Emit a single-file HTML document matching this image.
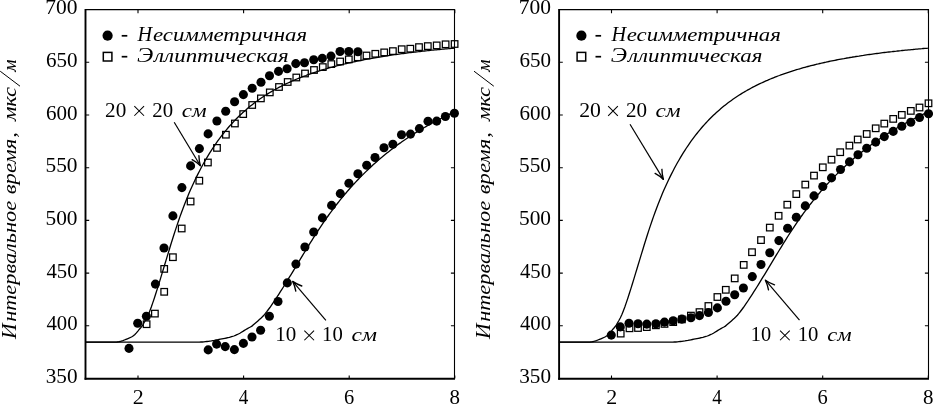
<!DOCTYPE html>
<html lang="ru">
<head>
<meta charset="utf-8">
<title>Интервальное время</title>
<style>
html,body{margin:0;padding:0;background:#fff;}
body{width:933px;height:404px;overflow:hidden;font-family:"Liberation Serif",serif;}
svg{display:block;will-change:transform;}
text{font-family:"Liberation Serif",serif;fill:#000;}
.num{font-style:normal;}
.it{font-style:italic;}
</style>
</head>
<body>
<svg width="933" height="404" viewBox="0 0 933 404"><rect width="933" height="404" fill="#fff"/><g id="left"><path d="M85.4,342.2 L86.9,342.2 L88.4,342.2 L89.9,342.2 L91.4,342.2 L92.9,342.2 L94.4,342.2 L95.9,342.2 L97.4,342.2 L98.9,342.2 L100.4,342.2 L101.9,342.2 L103.4,342.2 L104.9,342.2 L106.4,342.2 L107.9,342.2 L109.4,342.2 L110.9,342.2 L112.4,342.2 L113.9,342.2 L115.4,342.1 L116.9,342.0 L118.4,341.8 L119.9,341.5 L121.4,341.0 L122.9,340.6 L124.4,340.0 L125.9,339.4 L127.4,338.8 L128.9,338.2 L130.4,337.5 L131.9,336.8 L133.4,335.8 L134.9,334.5 L136.4,332.9 L137.9,331.1 L139.4,329.2 L140.9,327.5 L142.4,325.7 L143.9,323.0 L145.4,320.5 L146.9,317.8 L148.4,314.6 L149.9,310.8 L151.4,306.8 L152.9,302.4 L154.4,298.0 L155.9,293.3 L157.4,288.6 L158.9,283.7 L160.4,278.9 L161.9,273.9 L163.4,269.0 L164.9,264.0 L166.4,259.1 L167.9,254.1 L169.4,249.2 L170.9,244.3 L172.4,239.5 L173.9,234.7 L175.4,230.1 L176.9,225.6 L178.4,221.2 L179.9,216.9 L181.4,212.7 L182.9,208.7 L184.4,204.8 L185.9,200.9 L187.4,197.2 L188.9,193.6 L190.4,190.1 L191.9,186.7 L193.4,183.5 L194.9,180.2 L196.4,177.1 L197.9,174.1 L199.4,171.2 L200.9,168.3 L202.4,165.5 L203.9,162.8 L205.4,160.2 L206.9,157.6 L208.4,155.1 L209.9,152.7 L211.4,150.3 L212.9,148.0 L214.4,145.8 L215.9,143.6 L217.4,141.4 L218.9,139.4 L220.4,137.4 L221.9,135.4 L223.4,133.5 L224.9,131.6 L226.4,129.8 L227.9,128.0 L229.4,126.3 L230.9,124.6 L232.4,123.0 L233.9,121.4 L235.4,119.8 L236.9,118.3 L238.4,116.8 L239.9,115.3 L241.4,113.9 L242.9,112.5 L244.4,111.2 L245.9,109.9 L247.4,108.6 L248.9,107.3 L250.4,106.1 L251.9,104.9 L253.4,103.7 L254.9,102.6 L256.4,101.5 L257.9,100.4 L259.4,99.3 L260.9,98.3 L262.4,97.3 L263.9,96.3 L265.4,95.3 L266.9,94.4 L268.4,93.4 L269.9,92.5 L271.4,91.6 L272.9,90.8 L274.4,89.9 L275.9,89.1 L277.4,88.2 L278.9,87.4 L280.4,86.7 L281.9,85.9 L283.4,85.1 L284.9,84.4 L286.4,83.7 L287.9,83.0 L289.4,82.3 L290.9,81.6 L292.4,80.9 L293.9,80.3 L295.4,79.6 L296.9,79.0 L298.4,78.4 L299.9,77.8 L301.4,77.2 L302.9,76.6 L304.4,76.0 L305.9,75.5 L307.4,74.9 L308.9,74.4 L310.4,73.8 L311.9,73.3 L313.4,72.8 L314.9,72.3 L316.4,71.8 L317.9,71.3 L319.4,70.8 L320.9,70.4 L322.4,69.9 L323.9,69.5 L325.4,69.0 L326.9,68.6 L328.4,68.1 L329.9,67.7 L331.4,67.3 L332.9,66.9 L334.4,66.5 L335.9,66.1 L337.4,65.7 L338.9,65.3 L340.4,65.0 L341.9,64.6 L343.4,64.2 L344.9,63.9 L346.4,63.5 L347.9,63.2 L349.4,62.8 L350.9,62.5 L352.4,62.2 L353.9,61.8 L355.4,61.5 L356.9,61.2 L358.4,60.9 L359.9,60.6 L361.4,60.3 L362.9,60.0 L364.4,59.7 L365.9,59.4 L367.4,59.1 L368.9,58.8 L370.4,58.6 L371.9,58.3 L373.4,58.0 L374.9,57.8 L376.4,57.5 L377.9,57.3 L379.4,57.0 L380.9,56.8 L382.4,56.5 L383.9,56.3 L385.4,56.1 L386.9,55.8 L388.4,55.6 L389.9,55.4 L391.4,55.1 L392.9,54.9 L394.4,54.7 L395.9,54.5 L397.4,54.3 L398.9,54.1 L400.4,53.9 L401.9,53.7 L403.4,53.5 L404.9,53.3 L406.4,53.1 L407.9,52.9 L409.4,52.7 L410.9,52.5 L412.4,52.4 L413.9,52.2 L415.4,52.0 L416.9,51.8 L418.4,51.7 L419.9,51.5 L421.4,51.3 L422.9,51.2 L424.4,51.0 L425.9,50.8 L427.4,50.7 L428.9,50.5 L430.4,50.4 L431.9,50.2 L433.4,50.1 L434.9,49.9 L436.4,49.8 L437.9,49.6 L439.4,49.5 L440.9,49.3 L442.4,49.2 L443.9,49.1 L445.4,48.9 L446.9,48.8 L448.4,48.7 L449.9,48.5 L451.4,48.4 L452.9,48.3 L454.4,48.2 L455.0,48.1" fill="none" stroke="#000" stroke-width="1.3"/><path d="M85.4,342.2 L86.9,342.2 L88.4,342.2 L89.9,342.2 L91.4,342.2 L92.9,342.2 L94.4,342.2 L95.9,342.2 L97.4,342.2 L98.9,342.2 L100.4,342.2 L101.9,342.2 L103.4,342.2 L104.9,342.2 L106.4,342.2 L107.9,342.2 L109.4,342.2 L110.9,342.2 L112.4,342.2 L113.9,342.2 L115.4,342.2 L116.9,342.2 L118.4,342.2 L119.9,342.2 L121.4,342.2 L122.9,342.2 L124.4,342.2 L125.9,342.2 L127.4,342.2 L128.9,342.2 L130.4,342.2 L131.9,342.2 L133.4,342.2 L134.9,342.2 L136.4,342.2 L137.9,342.2 L139.4,342.2 L140.9,342.2 L142.4,342.2 L143.9,342.2 L145.4,342.2 L146.9,342.2 L148.4,342.2 L149.9,342.2 L151.4,342.2 L152.9,342.2 L154.4,342.2 L155.9,342.2 L157.4,342.2 L158.9,342.2 L160.4,342.2 L161.9,342.2 L163.4,342.2 L164.9,342.2 L166.4,342.2 L167.9,342.2 L169.4,342.2 L170.9,342.2 L172.4,342.2 L173.9,342.2 L175.4,342.2 L176.9,342.2 L178.4,342.2 L179.9,342.2 L181.4,342.2 L182.9,342.2 L184.4,342.2 L185.9,342.2 L187.4,342.2 L188.9,342.2 L190.4,342.2 L191.9,342.2 L193.4,342.2 L194.9,342.2 L196.4,342.2 L197.9,342.1 L199.4,342.1 L200.9,342.0 L202.4,342.0 L203.9,341.9 L205.4,341.7 L206.9,341.5 L208.4,341.3 L209.9,341.1 L211.4,340.9 L212.9,340.6 L214.4,340.4 L215.9,340.1 L217.4,339.8 L218.9,339.5 L220.4,339.2 L221.9,338.9 L223.4,338.6 L224.9,338.3 L226.4,338.0 L227.9,337.6 L229.4,337.3 L230.9,336.9 L232.4,336.5 L233.9,336.0 L235.4,335.4 L236.9,334.7 L238.4,334.0 L239.9,333.2 L241.4,332.3 L242.9,331.4 L244.4,330.4 L245.9,329.5 L247.4,328.6 L248.9,327.7 L250.4,327.0 L251.9,326.1 L253.4,324.8 L254.9,323.5 L256.4,322.2 L257.9,320.9 L259.4,319.6 L260.9,318.3 L262.4,316.8 L263.9,315.2 L265.4,313.4 L266.9,311.5 L268.4,309.5 L269.9,307.5 L271.4,305.3 L272.9,303.2 L274.4,301.0 L275.9,298.7 L277.4,296.4 L278.9,294.1 L280.4,291.7 L281.9,289.4 L283.4,287.0 L284.9,284.6 L286.4,282.1 L287.9,279.7 L289.4,277.2 L290.9,274.8 L292.4,272.3 L293.9,269.8 L295.4,267.3 L296.9,264.8 L298.4,262.4 L299.9,259.9 L301.4,257.4 L302.9,254.9 L304.4,252.5 L305.9,250.0 L307.4,247.6 L308.9,245.1 L310.4,242.7 L311.9,240.3 L313.4,237.9 L314.9,235.5 L316.4,233.2 L317.9,230.9 L319.4,228.6 L320.9,226.3 L322.4,224.1 L323.9,221.9 L325.4,219.7 L326.9,217.6 L328.4,215.5 L329.9,213.4 L331.4,211.4 L332.9,209.3 L334.4,207.4 L335.9,205.4 L337.4,203.5 L338.9,201.6 L340.4,199.7 L341.9,197.8 L343.4,196.0 L344.9,194.2 L346.4,192.5 L347.9,190.7 L349.4,189.0 L350.9,187.3 L352.4,185.6 L353.9,184.0 L355.4,182.4 L356.9,180.8 L358.4,179.2 L359.9,177.6 L361.4,176.1 L362.9,174.6 L364.4,173.1 L365.9,171.6 L367.4,170.2 L368.9,168.8 L370.4,167.4 L371.9,166.0 L373.4,164.6 L374.9,163.2 L376.4,161.9 L377.9,160.6 L379.4,159.3 L380.9,158.0 L382.4,156.8 L383.9,155.5 L385.4,154.3 L386.9,153.1 L388.4,151.9 L389.9,150.7 L391.4,149.5 L392.9,148.4 L394.4,147.2 L395.9,146.1 L397.4,145.0 L398.9,143.9 L400.4,142.9 L401.9,141.8 L403.4,140.7 L404.9,139.7 L406.4,138.7 L407.9,137.7 L409.4,136.7 L410.9,135.7 L412.4,134.7 L413.9,133.8 L415.4,132.9 L416.9,131.9 L418.4,131.0 L419.9,130.1 L421.4,129.2 L422.9,128.3 L424.4,127.5 L425.9,126.6 L427.4,125.7 L428.9,124.9 L430.4,124.1 L431.9,123.2 L433.4,122.4 L434.9,121.6 L436.4,120.8 L437.9,120.1 L439.4,119.3 L440.9,118.5 L442.4,117.8 L443.9,117.0 L445.4,116.3 L446.9,115.6 L448.4,114.9 L449.9,114.1 L451.4,113.4 L452.9,112.8 L454.4,112.1 L455.0,111.8" fill="none" stroke="#000" stroke-width="1.3"/><g fill="none" stroke="#000" stroke-width="1.25"><rect x="143.32" y="320.93" width="6.55" height="6.55"/><rect x="151.62" y="310.33" width="6.55" height="6.55"/><rect x="160.92" y="288.53" width="6.55" height="6.55"/><rect x="160.92" y="265.62" width="6.55" height="6.55"/><rect x="169.62" y="253.92" width="6.55" height="6.55"/><rect x="178.42" y="225.22" width="6.55" height="6.55"/><rect x="187.32" y="198.22" width="6.55" height="6.55"/><rect x="196.03" y="177.42" width="6.55" height="6.55"/><rect x="204.62" y="159.22" width="6.55" height="6.55"/><rect x="213.72" y="144.62" width="6.55" height="6.55"/><rect x="222.62" y="131.42" width="6.55" height="6.55"/><rect x="231.62" y="120.22" width="6.55" height="6.55"/><rect x="239.92" y="110.82" width="6.55" height="6.55"/><rect x="248.92" y="101.72" width="6.55" height="6.55"/><rect x="257.62" y="95.12" width="6.55" height="6.55"/><rect x="266.53" y="89.12" width="6.55" height="6.55"/><rect x="275.73" y="83.72" width="6.55" height="6.55"/><rect x="284.43" y="78.72" width="6.55" height="6.55"/><rect x="293.03" y="74.22" width="6.55" height="6.55"/><rect x="301.73" y="70.22" width="6.55" height="6.55"/><rect x="310.73" y="66.72" width="6.55" height="6.55"/><rect x="319.53" y="63.82" width="6.55" height="6.55"/><rect x="328.03" y="60.82" width="6.55" height="6.55"/><rect x="336.83" y="58.23" width="6.55" height="6.55"/><rect x="345.53" y="56.12" width="6.55" height="6.55"/><rect x="354.43" y="54.02" width="6.55" height="6.55"/><rect x="363.23" y="52.23" width="6.55" height="6.55"/><rect x="372.03" y="50.52" width="6.55" height="6.55"/><rect x="380.93" y="49.12" width="6.55" height="6.55"/><rect x="389.62" y="47.83" width="6.55" height="6.55"/><rect x="398.43" y="45.93" width="6.55" height="6.55"/><rect x="407.03" y="45.43" width="6.55" height="6.55"/><rect x="415.73" y="43.83" width="6.55" height="6.55"/><rect x="424.53" y="42.83" width="6.55" height="6.55"/><rect x="433.43" y="42.12" width="6.55" height="6.55"/><rect x="442.33" y="41.02" width="6.55" height="6.55"/><rect x="451.33" y="40.73" width="6.55" height="6.55"/></g><g fill="#000"><circle cx="129.0" cy="348.4" r="4.55"/><circle cx="137.7" cy="323.3" r="4.55"/><circle cx="146.4" cy="316.3" r="4.55"/><circle cx="155.4" cy="284.1" r="4.55"/><circle cx="164.0" cy="248.0" r="4.55"/><circle cx="172.9" cy="215.9" r="4.55"/><circle cx="181.9" cy="187.6" r="4.55"/><circle cx="190.6" cy="165.9" r="4.55"/><circle cx="199.4" cy="148.6" r="4.55"/><circle cx="208.1" cy="133.9" r="4.55"/><circle cx="216.9" cy="121.0" r="4.55"/><circle cx="225.7" cy="111.3" r="4.55"/><circle cx="234.6" cy="101.8" r="4.55"/><circle cx="243.4" cy="94.6" r="4.55"/><circle cx="252.2" cy="88.3" r="4.55"/><circle cx="261.0" cy="82.2" r="4.55"/><circle cx="269.5" cy="75.7" r="4.55"/><circle cx="278.5" cy="71.4" r="4.55"/><circle cx="287.1" cy="68.8" r="4.55"/><circle cx="295.8" cy="63.6" r="4.55"/><circle cx="304.5" cy="62.7" r="4.55"/><circle cx="313.7" cy="59.8" r="4.55"/><circle cx="322.3" cy="58.4" r="4.55"/><circle cx="331.0" cy="56.1" r="4.55"/><circle cx="340.0" cy="51.5" r="4.55"/><circle cx="348.8" cy="51.5" r="4.55"/><circle cx="357.9" cy="51.8" r="4.55"/><circle cx="208.2" cy="349.9" r="4.55"/><circle cx="216.6" cy="344.1" r="4.55"/><circle cx="225.2" cy="346.6" r="4.55"/><circle cx="234.4" cy="349.6" r="4.55"/><circle cx="243.4" cy="343.4" r="4.55"/><circle cx="252.0" cy="337.0" r="4.55"/><circle cx="260.6" cy="330.2" r="4.55"/><circle cx="269.4" cy="316.3" r="4.55"/><circle cx="278.0" cy="301.5" r="4.55"/><circle cx="287.3" cy="282.9" r="4.55"/><circle cx="295.9" cy="264.1" r="4.55"/><circle cx="304.9" cy="247.0" r="4.55"/><circle cx="313.7" cy="232.0" r="4.55"/><circle cx="322.4" cy="217.9" r="4.55"/><circle cx="331.6" cy="205.4" r="4.55"/><circle cx="340.3" cy="193.6" r="4.55"/><circle cx="348.9" cy="183.2" r="4.55"/><circle cx="357.9" cy="173.7" r="4.55"/><circle cx="366.7" cy="165.2" r="4.55"/><circle cx="375.0" cy="157.5" r="4.55"/><circle cx="384.0" cy="147.7" r="4.55"/><circle cx="392.9" cy="144.2" r="4.55"/><circle cx="401.5" cy="134.7" r="4.55"/><circle cx="410.5" cy="134.1" r="4.55"/><circle cx="419.4" cy="128.6" r="4.55"/><circle cx="428.0" cy="121.3" r="4.55"/><circle cx="436.7" cy="121.1" r="4.55"/><circle cx="445.4" cy="116.5" r="4.55"/><circle cx="454.4" cy="113.3" r="4.55"/></g><path d="M85.3,9.6 H454.5 V378.6" fill="none" stroke="#000" stroke-width="1.1"/><path d="M85.5,9.1 V379.70000000000005" fill="none" stroke="#000" stroke-width="1.9"/><path d="M84.6,378.70000000000005 H455.0" fill="none" stroke="#000" stroke-width="2.1"/><path d="M138.0,9.6 v3.6 M138.0,378.6 v-3.1 M243.6,9.6 v3.6 M243.6,378.6 v-3.1 M349.2,9.6 v3.6 M349.2,378.6 v-3.1 M454.8,9.6 v3.6 M454.8,378.6 v-3.1 M85.3,325.8 h3.9 M454.5,325.8 h-3.6 M85.3,273.1 h3.9 M454.5,273.1 h-3.6 M85.3,220.4 h3.9 M454.5,220.4 h-3.6 M85.3,167.7 h3.9 M454.5,167.7 h-3.6 M85.3,115.0 h3.9 M454.5,115.0 h-3.6 M85.3,62.3 h3.9 M454.5,62.3 h-3.6" fill="none" stroke="#000" stroke-width="1.1"/><text class="num" font-size="21.9" x="45.74" y="383.15" textLength="31.81" lengthAdjust="spacingAndGlyphs">350</text><text class="num" font-size="21.9" x="46.38" y="330.45" textLength="31.15" lengthAdjust="spacingAndGlyphs">400</text><text class="num" font-size="21.9" x="46.38" y="277.75" textLength="31.15" lengthAdjust="spacingAndGlyphs">450</text><text class="num" font-size="21.9" x="45.52" y="225.05" textLength="32.04" lengthAdjust="spacingAndGlyphs">500</text><text class="num" font-size="21.9" x="45.52" y="172.35" textLength="32.04" lengthAdjust="spacingAndGlyphs">550</text><text class="num" font-size="21.9" x="45.96" y="119.65" textLength="31.58" lengthAdjust="spacingAndGlyphs">600</text><text class="num" font-size="21.9" x="45.96" y="66.95" textLength="31.58" lengthAdjust="spacingAndGlyphs">650</text><text class="num" font-size="21.9" x="45.29" y="14.25" textLength="32.27" lengthAdjust="spacingAndGlyphs">700</text><text class="num" font-size="21.9" x="132.72" y="403.60" textLength="11.00" lengthAdjust="spacingAndGlyphs">2</text><text class="num" font-size="21.9" x="238.82" y="403.60" textLength="9.57" lengthAdjust="spacingAndGlyphs">4</text><text class="num" font-size="21.9" x="343.98" y="403.60" textLength="10.23" lengthAdjust="spacingAndGlyphs">6</text><text class="num" font-size="21.9" x="449.56" y="403.60" textLength="10.48" lengthAdjust="spacingAndGlyphs">8</text><circle cx="107.6" cy="35.7" r="5.1"/><rect x="103.3" y="52.4" width="8.6" height="8.6" fill="none" stroke="#000" stroke-width="1.5"/><rect x="121.7" y="34.95" width="5.6" height="1.7"/><rect x="121.7" y="55.85" width="5.6" height="1.7"/><text class="it" font-size="21.2" x="137.60" y="40.75" textLength="14.63" lengthAdjust="spacingAndGlyphs">Н</text><text class="it" font-size="18.6" x="152.91" y="40.75" textLength="154.14" lengthAdjust="spacingAndGlyphs">есимметричная</text><text class="it" font-size="21.2" x="136.90" y="61.65" textLength="16.32" lengthAdjust="spacingAndGlyphs">Э</text><text class="it" font-size="18.6" x="154.12" y="61.65" textLength="134.48" lengthAdjust="spacingAndGlyphs">ллиптическая</text><text class="num" font-size="21.9" x="105.05" y="116.50" textLength="21.20" lengthAdjust="spacingAndGlyphs">20</text><path d="M134.35,106.05 L144.05,115.75 M134.35,115.75 L144.05,106.05" stroke="#000" stroke-width="1.05" fill="none"/><text class="num" font-size="21.9" x="152.27" y="116.50" textLength="20.76" lengthAdjust="spacingAndGlyphs">20</text><text class="it" font-size="18.6" x="181.81" y="116.50" textLength="24.79" lengthAdjust="spacingAndGlyphs">см</text><path d="M174.2,122.3 L200.4,165.7" fill="none" stroke="#000" stroke-width="1.2"/><path d="M200.4,165.7 Q199.0,160.8 198.9,155.6 M200.4,165.7 Q196.7,162.2 192.1,159.7" fill="none" stroke="#000" stroke-width="1.35" stroke-linecap="round"/><text class="num" font-size="21.9" x="275.21" y="341.00" textLength="21.03" lengthAdjust="spacingAndGlyphs">10</text><path d="M304.35,330.55 L314.05,340.25 M304.35,340.25 L314.05,330.55" stroke="#000" stroke-width="1.05" fill="none"/><text class="num" font-size="21.9" x="322.04" y="341.00" textLength="20.69" lengthAdjust="spacingAndGlyphs">10</text><text class="it" font-size="18.6" x="351.60" y="341.00" textLength="25.42" lengthAdjust="spacingAndGlyphs">см</text><path d="M325.9,320.4 L292.7,281.4" fill="none" stroke="#000" stroke-width="1.2"/><path d="M292.7,281.4 Q294.9,286.0 295.8,291.1 M292.7,281.4 Q296.9,284.3 301.8,286.0" fill="none" stroke="#000" stroke-width="1.35" stroke-linecap="round"/><text class="it" font-size="21.2" transform="translate(16.40,338.98) rotate(-90)" textLength="15.55" lengthAdjust="spacingAndGlyphs">И</text><text class="it" font-size="18.6" transform="translate(16.40,321.87) rotate(-90)" textLength="121.03" lengthAdjust="spacingAndGlyphs">нтервальное</text><text class="it" font-size="18.6" transform="translate(16.40,194.18) rotate(-90)" textLength="55.42" lengthAdjust="spacingAndGlyphs">время</text><text class="it" font-size="18.6" transform="translate(16.40,137.68) rotate(-90)" textLength="5.62" lengthAdjust="spacingAndGlyphs">,</text><text class="it" font-size="18.6" transform="translate(16.40,121.12) rotate(-90)" textLength="34.29" lengthAdjust="spacingAndGlyphs">мкс</text><path d="M20.0,86.2 L0.2,71.2" stroke="#000" stroke-width="1.0" fill="none"/><text class="it" font-size="18.6" transform="translate(16.40,71.72) rotate(-90)" textLength="12.37" lengthAdjust="spacingAndGlyphs">м</text></g><g id="right"><path d="M558.9,342.2 L560.4,342.2 L561.9,342.2 L563.4,342.2 L564.9,342.2 L566.4,342.2 L567.9,342.2 L569.4,342.2 L570.9,342.2 L572.4,342.2 L573.9,342.2 L575.4,342.2 L576.9,342.2 L578.4,342.2 L579.9,342.2 L581.4,342.2 L582.9,342.2 L584.4,342.2 L585.9,342.2 L587.4,342.2 L588.9,342.1 L590.4,342.0 L591.9,341.8 L593.4,341.5 L594.9,341.0 L596.4,340.6 L597.9,340.0 L599.4,339.4 L600.9,338.8 L602.4,338.2 L603.9,337.5 L605.4,336.8 L606.9,335.8 L608.4,334.5 L609.9,332.9 L611.4,331.1 L612.9,329.2 L614.4,327.5 L615.9,325.7 L617.4,323.0 L618.9,320.5 L620.4,317.8 L621.9,314.6 L623.4,310.8 L624.9,306.8 L626.4,302.4 L627.9,298.0 L629.4,293.3 L630.9,288.6 L632.4,283.7 L633.9,278.9 L635.4,273.9 L636.9,269.0 L638.4,264.0 L639.9,259.1 L641.4,254.1 L642.9,249.2 L644.4,244.3 L645.9,239.5 L647.4,234.7 L648.9,230.1 L650.4,225.6 L651.9,221.2 L653.4,216.9 L654.9,212.7 L656.4,208.7 L657.9,204.8 L659.4,200.9 L660.9,197.2 L662.4,193.6 L663.9,190.1 L665.4,186.7 L666.9,183.5 L668.4,180.2 L669.9,177.1 L671.4,174.1 L672.9,171.2 L674.4,168.3 L675.9,165.5 L677.4,162.8 L678.9,160.2 L680.4,157.6 L681.9,155.1 L683.4,152.7 L684.9,150.3 L686.4,148.0 L687.9,145.8 L689.4,143.6 L690.9,141.4 L692.4,139.4 L693.9,137.4 L695.4,135.4 L696.9,133.5 L698.4,131.6 L699.9,129.8 L701.4,128.0 L702.9,126.3 L704.4,124.6 L705.9,123.0 L707.4,121.4 L708.9,119.8 L710.4,118.3 L711.9,116.8 L713.4,115.3 L714.9,113.9 L716.4,112.5 L717.9,111.2 L719.4,109.9 L720.9,108.6 L722.4,107.3 L723.9,106.1 L725.4,104.9 L726.9,103.7 L728.4,102.6 L729.9,101.5 L731.4,100.4 L732.9,99.3 L734.4,98.3 L735.9,97.3 L737.4,96.3 L738.9,95.3 L740.4,94.4 L741.9,93.4 L743.4,92.5 L744.9,91.6 L746.4,90.8 L747.9,89.9 L749.4,89.1 L750.9,88.2 L752.4,87.4 L753.9,86.7 L755.4,85.9 L756.9,85.1 L758.4,84.4 L759.9,83.7 L761.4,83.0 L762.9,82.3 L764.4,81.6 L765.9,80.9 L767.4,80.3 L768.9,79.6 L770.4,79.0 L771.9,78.4 L773.4,77.8 L774.9,77.2 L776.4,76.6 L777.9,76.0 L779.4,75.5 L780.9,74.9 L782.4,74.4 L783.9,73.8 L785.4,73.3 L786.9,72.8 L788.4,72.3 L789.9,71.8 L791.4,71.3 L792.9,70.8 L794.4,70.4 L795.9,69.9 L797.4,69.5 L798.9,69.0 L800.4,68.6 L801.9,68.1 L803.4,67.7 L804.9,67.3 L806.4,66.9 L807.9,66.5 L809.4,66.1 L810.9,65.7 L812.4,65.3 L813.9,65.0 L815.4,64.6 L816.9,64.2 L818.4,63.9 L819.9,63.5 L821.4,63.2 L822.9,62.8 L824.4,62.5 L825.9,62.2 L827.4,61.8 L828.9,61.5 L830.4,61.2 L831.9,60.9 L833.4,60.6 L834.9,60.3 L836.4,60.0 L837.9,59.7 L839.4,59.4 L840.9,59.1 L842.4,58.8 L843.9,58.6 L845.4,58.3 L846.9,58.0 L848.4,57.8 L849.9,57.5 L851.4,57.3 L852.9,57.0 L854.4,56.8 L855.9,56.5 L857.4,56.3 L858.9,56.1 L860.4,55.8 L861.9,55.6 L863.4,55.4 L864.9,55.1 L866.4,54.9 L867.9,54.7 L869.4,54.5 L870.9,54.3 L872.4,54.1 L873.9,53.9 L875.4,53.7 L876.9,53.5 L878.4,53.3 L879.9,53.1 L881.4,52.9 L882.9,52.7 L884.4,52.5 L885.9,52.4 L887.4,52.2 L888.9,52.0 L890.4,51.8 L891.9,51.7 L893.4,51.5 L894.9,51.3 L896.4,51.2 L897.9,51.0 L899.4,50.8 L900.9,50.7 L902.4,50.5 L903.9,50.4 L905.4,50.2 L906.9,50.1 L908.4,49.9 L909.9,49.8 L911.4,49.6 L912.9,49.5 L914.4,49.3 L915.9,49.2 L917.4,49.1 L918.9,48.9 L920.4,48.8 L921.9,48.7 L923.4,48.5 L924.9,48.4 L926.4,48.3 L927.9,48.2 L928.5,48.1" fill="none" stroke="#000" stroke-width="1.3"/><path d="M558.9,342.2 L560.4,342.2 L561.9,342.2 L563.4,342.2 L564.9,342.2 L566.4,342.2 L567.9,342.2 L569.4,342.2 L570.9,342.2 L572.4,342.2 L573.9,342.2 L575.4,342.2 L576.9,342.2 L578.4,342.2 L579.9,342.2 L581.4,342.2 L582.9,342.2 L584.4,342.2 L585.9,342.2 L587.4,342.2 L588.9,342.2 L590.4,342.2 L591.9,342.2 L593.4,342.2 L594.9,342.2 L596.4,342.2 L597.9,342.2 L599.4,342.2 L600.9,342.2 L602.4,342.2 L603.9,342.2 L605.4,342.2 L606.9,342.2 L608.4,342.2 L609.9,342.2 L611.4,342.2 L612.9,342.2 L614.4,342.2 L615.9,342.2 L617.4,342.2 L618.9,342.2 L620.4,342.2 L621.9,342.2 L623.4,342.2 L624.9,342.2 L626.4,342.2 L627.9,342.2 L629.4,342.2 L630.9,342.2 L632.4,342.2 L633.9,342.2 L635.4,342.2 L636.9,342.2 L638.4,342.2 L639.9,342.2 L641.4,342.2 L642.9,342.2 L644.4,342.2 L645.9,342.2 L647.4,342.2 L648.9,342.2 L650.4,342.2 L651.9,342.2 L653.4,342.2 L654.9,342.2 L656.4,342.2 L657.9,342.2 L659.4,342.2 L660.9,342.2 L662.4,342.2 L663.9,342.2 L665.4,342.2 L666.9,342.2 L668.4,342.2 L669.9,342.2 L671.4,342.1 L672.9,342.1 L674.4,342.0 L675.9,342.0 L677.4,341.9 L678.9,341.7 L680.4,341.5 L681.9,341.3 L683.4,341.1 L684.9,340.9 L686.4,340.6 L687.9,340.4 L689.4,340.1 L690.9,339.8 L692.4,339.5 L693.9,339.2 L695.4,338.9 L696.9,338.6 L698.4,338.3 L699.9,338.0 L701.4,337.6 L702.9,337.3 L704.4,336.9 L705.9,336.5 L707.4,336.0 L708.9,335.4 L710.4,334.7 L711.9,334.0 L713.4,333.2 L714.9,332.3 L716.4,331.4 L717.9,330.4 L719.4,329.5 L720.9,328.6 L722.4,327.7 L723.9,327.0 L725.4,326.1 L726.9,324.8 L728.4,323.5 L729.9,322.2 L731.4,320.9 L732.9,319.6 L734.4,318.3 L735.9,316.8 L737.4,315.2 L738.9,313.4 L740.4,311.5 L741.9,309.5 L743.4,307.5 L744.9,305.3 L746.4,303.2 L747.9,301.0 L749.4,298.7 L750.9,296.4 L752.4,294.1 L753.9,291.7 L755.4,289.4 L756.9,287.0 L758.4,284.6 L759.9,282.1 L761.4,279.7 L762.9,277.2 L764.4,274.8 L765.9,272.3 L767.4,269.8 L768.9,267.3 L770.4,264.8 L771.9,262.4 L773.4,259.9 L774.9,257.4 L776.4,254.9 L777.9,252.5 L779.4,250.0 L780.9,247.6 L782.4,245.1 L783.9,242.7 L785.4,240.3 L786.9,237.9 L788.4,235.5 L789.9,233.2 L791.4,230.9 L792.9,228.6 L794.4,226.3 L795.9,224.1 L797.4,221.9 L798.9,219.7 L800.4,217.6 L801.9,215.5 L803.4,213.4 L804.9,211.4 L806.4,209.3 L807.9,207.4 L809.4,205.4 L810.9,203.5 L812.4,201.6 L813.9,199.7 L815.4,197.8 L816.9,196.0 L818.4,194.2 L819.9,192.5 L821.4,190.7 L822.9,189.0 L824.4,187.3 L825.9,185.6 L827.4,184.0 L828.9,182.4 L830.4,180.8 L831.9,179.2 L833.4,177.6 L834.9,176.1 L836.4,174.6 L837.9,173.1 L839.4,171.6 L840.9,170.2 L842.4,168.8 L843.9,167.4 L845.4,166.0 L846.9,164.6 L848.4,163.2 L849.9,161.9 L851.4,160.6 L852.9,159.3 L854.4,158.0 L855.9,156.8 L857.4,155.5 L858.9,154.3 L860.4,153.1 L861.9,151.9 L863.4,150.7 L864.9,149.5 L866.4,148.4 L867.9,147.2 L869.4,146.1 L870.9,145.0 L872.4,143.9 L873.9,142.9 L875.4,141.8 L876.9,140.7 L878.4,139.7 L879.9,138.7 L881.4,137.7 L882.9,136.7 L884.4,135.7 L885.9,134.7 L887.4,133.8 L888.9,132.9 L890.4,131.9 L891.9,131.0 L893.4,130.1 L894.9,129.2 L896.4,128.3 L897.9,127.5 L899.4,126.6 L900.9,125.7 L902.4,124.9 L903.9,124.1 L905.4,123.2 L906.9,122.4 L908.4,121.6 L909.9,120.8 L911.4,120.1 L912.9,119.3 L914.4,118.5 L915.9,117.8 L917.4,117.0 L918.9,116.3 L920.4,115.6 L921.9,114.9 L923.4,114.1 L924.9,113.4 L926.4,112.8 L927.9,112.1 L928.5,111.8" fill="none" stroke="#000" stroke-width="1.3"/><g fill="none" stroke="#000" stroke-width="1.25"><rect x="617.43" y="330.33" width="6.55" height="6.55"/><rect x="626.23" y="325.03" width="6.55" height="6.55"/><rect x="634.73" y="324.73" width="6.55" height="6.55"/><rect x="643.52" y="323.83" width="6.55" height="6.55"/><rect x="652.62" y="322.03" width="6.55" height="6.55"/><rect x="661.23" y="320.62" width="6.55" height="6.55"/><rect x="669.93" y="318.83" width="6.55" height="6.55"/><rect x="678.62" y="316.12" width="6.55" height="6.55"/><rect x="687.62" y="312.33" width="6.55" height="6.55"/><rect x="696.23" y="308.83" width="6.55" height="6.55"/><rect x="705.12" y="302.73" width="6.55" height="6.55"/><rect x="714.12" y="293.73" width="6.55" height="6.55"/><rect x="722.52" y="286.53" width="6.55" height="6.55"/><rect x="731.43" y="275.12" width="6.55" height="6.55"/><rect x="740.43" y="261.62" width="6.55" height="6.55"/><rect x="748.73" y="248.92" width="6.55" height="6.55"/><rect x="757.73" y="236.82" width="6.55" height="6.55"/><rect x="766.52" y="224.32" width="6.55" height="6.55"/><rect x="775.33" y="212.53" width="6.55" height="6.55"/><rect x="784.02" y="201.42" width="6.55" height="6.55"/><rect x="793.02" y="190.82" width="6.55" height="6.55"/><rect x="802.02" y="181.32" width="6.55" height="6.55"/><rect x="810.73" y="172.32" width="6.55" height="6.55"/><rect x="819.52" y="164.03" width="6.55" height="6.55"/><rect x="828.23" y="156.42" width="6.55" height="6.55"/><rect x="836.93" y="148.92" width="6.55" height="6.55"/><rect x="846.12" y="142.32" width="6.55" height="6.55"/><rect x="854.43" y="136.22" width="6.55" height="6.55"/><rect x="863.43" y="130.72" width="6.55" height="6.55"/><rect x="872.43" y="125.03" width="6.55" height="6.55"/><rect x="881.02" y="120.32" width="6.55" height="6.55"/><rect x="889.93" y="115.62" width="6.55" height="6.55"/><rect x="898.52" y="111.62" width="6.55" height="6.55"/><rect x="907.52" y="107.62" width="6.55" height="6.55"/><rect x="916.23" y="104.22" width="6.55" height="6.55"/><rect x="925.23" y="100.02" width="6.55" height="6.55"/></g><g fill="#000"><circle cx="611.3" cy="335.1" r="4.55"/><circle cx="620.3" cy="326.9" r="4.55"/><circle cx="629.0" cy="323.3" r="4.55"/><circle cx="638.0" cy="323.8" r="4.55"/><circle cx="646.8" cy="324.1" r="4.55"/><circle cx="655.9" cy="323.8" r="4.55"/><circle cx="664.5" cy="322.1" r="4.55"/><circle cx="673.2" cy="320.8" r="4.55"/><circle cx="681.9" cy="319.1" r="4.55"/><circle cx="690.9" cy="317.7" r="4.55"/><circle cx="699.5" cy="315.6" r="4.55"/><circle cx="708.4" cy="312.5" r="4.55"/><circle cx="717.4" cy="307.9" r="4.55"/><circle cx="726.0" cy="301.3" r="4.55"/><circle cx="734.7" cy="294.8" r="4.55"/><circle cx="743.4" cy="288.0" r="4.55"/><circle cx="752.3" cy="276.6" r="4.55"/><circle cx="761.0" cy="264.5" r="4.55"/><circle cx="769.8" cy="252.7" r="4.55"/><circle cx="778.9" cy="240.6" r="4.55"/><circle cx="787.6" cy="228.3" r="4.55"/><circle cx="796.3" cy="217.2" r="4.55"/><circle cx="805.3" cy="205.9" r="4.55"/><circle cx="814.0" cy="195.9" r="4.55"/><circle cx="822.8" cy="186.5" r="4.55"/><circle cx="831.5" cy="177.9" r="4.55"/><circle cx="840.5" cy="169.5" r="4.55"/><circle cx="849.5" cy="161.9" r="4.55"/><circle cx="858.0" cy="154.8" r="4.55"/><circle cx="866.7" cy="148.3" r="4.55"/><circle cx="875.7" cy="142.1" r="4.55"/><circle cx="884.3" cy="136.6" r="4.55"/><circle cx="893.2" cy="131.4" r="4.55"/><circle cx="901.8" cy="126.2" r="4.55"/><circle cx="910.8" cy="122.2" r="4.55"/><circle cx="919.5" cy="117.5" r="4.55"/><circle cx="928.5" cy="113.7" r="4.55"/></g><path d="M558.9,9.6 H928.5 V378.6" fill="none" stroke="#000" stroke-width="1.1"/><path d="M559.1,9.1 V379.70000000000005" fill="none" stroke="#000" stroke-width="1.9"/><path d="M558.2,378.70000000000005 H929.0" fill="none" stroke="#000" stroke-width="2.1"/><path d="M611.5,9.6 v3.6 M611.5,378.6 v-3.1 M717.1,9.6 v3.6 M717.1,378.6 v-3.1 M822.7,9.6 v3.6 M822.7,378.6 v-3.1 M928.3,9.6 v3.6 M928.3,378.6 v-3.1 M558.9,325.8 h3.9 M928.5,325.8 h-3.6 M558.9,273.1 h3.9 M928.5,273.1 h-3.6 M558.9,220.4 h3.9 M928.5,220.4 h-3.6 M558.9,167.7 h3.9 M928.5,167.7 h-3.6 M558.9,115.0 h3.9 M928.5,115.0 h-3.6 M558.9,62.3 h3.9 M928.5,62.3 h-3.6" fill="none" stroke="#000" stroke-width="1.1"/><text class="num" font-size="21.9" x="519.24" y="383.15" textLength="31.81" lengthAdjust="spacingAndGlyphs">350</text><text class="num" font-size="21.9" x="519.88" y="330.45" textLength="31.15" lengthAdjust="spacingAndGlyphs">400</text><text class="num" font-size="21.9" x="519.88" y="277.75" textLength="31.15" lengthAdjust="spacingAndGlyphs">450</text><text class="num" font-size="21.9" x="519.02" y="225.05" textLength="32.04" lengthAdjust="spacingAndGlyphs">500</text><text class="num" font-size="21.9" x="519.02" y="172.35" textLength="32.04" lengthAdjust="spacingAndGlyphs">550</text><text class="num" font-size="21.9" x="519.46" y="119.65" textLength="31.58" lengthAdjust="spacingAndGlyphs">600</text><text class="num" font-size="21.9" x="519.46" y="66.95" textLength="31.58" lengthAdjust="spacingAndGlyphs">650</text><text class="num" font-size="21.9" x="518.79" y="14.25" textLength="32.27" lengthAdjust="spacingAndGlyphs">700</text><text class="num" font-size="21.9" x="606.22" y="403.60" textLength="11.00" lengthAdjust="spacingAndGlyphs">2</text><text class="num" font-size="21.9" x="712.32" y="403.60" textLength="9.57" lengthAdjust="spacingAndGlyphs">4</text><text class="num" font-size="21.9" x="817.48" y="403.60" textLength="10.23" lengthAdjust="spacingAndGlyphs">6</text><text class="num" font-size="21.9" x="923.06" y="403.60" textLength="10.48" lengthAdjust="spacingAndGlyphs">8</text><circle cx="581.4" cy="35.7" r="5.1"/><rect x="577.1" y="52.4" width="8.6" height="8.6" fill="none" stroke="#000" stroke-width="1.5"/><rect x="595.5" y="34.95" width="5.6" height="1.7"/><rect x="595.5" y="55.85" width="5.6" height="1.7"/><text class="it" font-size="21.2" x="611.40" y="40.75" textLength="14.63" lengthAdjust="spacingAndGlyphs">Н</text><text class="it" font-size="18.6" x="626.71" y="40.75" textLength="154.14" lengthAdjust="spacingAndGlyphs">есимметричная</text><text class="it" font-size="21.2" x="610.70" y="61.65" textLength="16.32" lengthAdjust="spacingAndGlyphs">Э</text><text class="it" font-size="18.6" x="627.92" y="61.65" textLength="134.48" lengthAdjust="spacingAndGlyphs">ллиптическая</text><text class="num" font-size="21.9" x="579.13" y="116.60" textLength="21.74" lengthAdjust="spacingAndGlyphs">20</text><path d="M608.15,106.15 L617.85,115.85 M608.15,115.85 L617.85,106.15" stroke="#000" stroke-width="1.05" fill="none"/><text class="num" font-size="21.9" x="626.06" y="116.60" textLength="21.09" lengthAdjust="spacingAndGlyphs">20</text><text class="it" font-size="18.6" x="655.40" y="116.60" textLength="25.11" lengthAdjust="spacingAndGlyphs">см</text><path d="M630.0,124.2 L663.4,179.4" fill="none" stroke="#000" stroke-width="1.2"/><path d="M663.4,179.4 Q662.0,174.5 661.9,169.3 M663.4,179.4 Q659.7,175.9 655.1,173.4" fill="none" stroke="#000" stroke-width="1.35" stroke-linecap="round"/><text class="num" font-size="21.9" x="750.87" y="341.00" textLength="20.34" lengthAdjust="spacingAndGlyphs">10</text><path d="M780.05,330.55 L789.75,340.25 M780.05,340.25 L789.75,330.55" stroke="#000" stroke-width="1.05" fill="none"/><text class="num" font-size="21.9" x="797.64" y="341.00" textLength="20.69" lengthAdjust="spacingAndGlyphs">10</text><text class="it" font-size="18.6" x="827.22" y="341.00" textLength="24.37" lengthAdjust="spacingAndGlyphs">см</text><path d="M799.5,320.2 L765.4,280.2" fill="none" stroke="#000" stroke-width="1.2"/><path d="M765.4,280.2 Q767.6,284.8 768.5,289.9 M765.4,280.2 Q769.6,283.1 774.5,284.8" fill="none" stroke="#000" stroke-width="1.35" stroke-linecap="round"/><text class="it" font-size="21.2" transform="translate(490.20,338.98) rotate(-90)" textLength="15.55" lengthAdjust="spacingAndGlyphs">И</text><text class="it" font-size="18.6" transform="translate(490.20,321.87) rotate(-90)" textLength="121.03" lengthAdjust="spacingAndGlyphs">нтервальное</text><text class="it" font-size="18.6" transform="translate(490.20,194.18) rotate(-90)" textLength="55.42" lengthAdjust="spacingAndGlyphs">время</text><text class="it" font-size="18.6" transform="translate(490.20,137.68) rotate(-90)" textLength="5.62" lengthAdjust="spacingAndGlyphs">,</text><text class="it" font-size="18.6" transform="translate(490.20,121.12) rotate(-90)" textLength="34.29" lengthAdjust="spacingAndGlyphs">мкс</text><path d="M493.8,86.2 L474.0,71.2" stroke="#000" stroke-width="1.0" fill="none"/><text class="it" font-size="18.6" transform="translate(490.20,71.72) rotate(-90)" textLength="12.37" lengthAdjust="spacingAndGlyphs">м</text></g></svg>
</body>
</html>
